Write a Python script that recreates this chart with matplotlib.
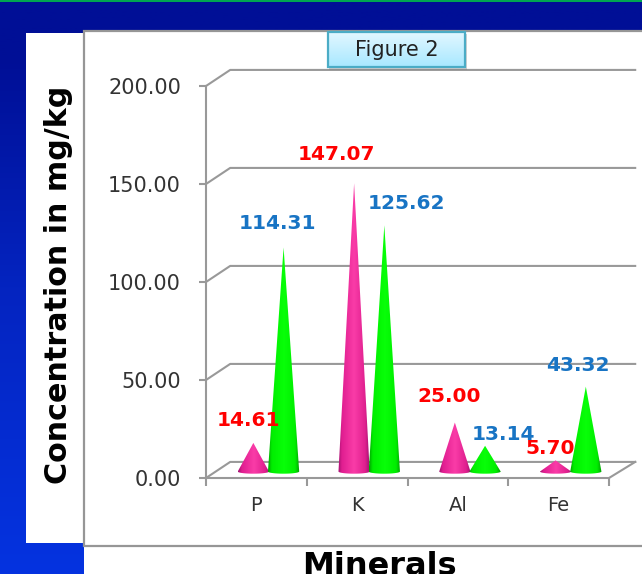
import numpy as np
import matplotlib
matplotlib.use("Agg")
import matplotlib.pyplot as plt
from matplotlib.colors import LinearSegmentedColormap
from matplotlib.patches import Polygon, Rectangle

# Data
minerals = ["P", "K", "Al", "Fe"]
pink_values = [14.61, 147.07, 25.00, 5.70]
green_values = [114.31, 125.62, 13.14, 43.32]
y_ticks = [0, 50, 100, 150, 200]

# label offsets from the cone tip, in pixels
pink_label_off = [(-5, 22), (-18, 29), (-6, 26), (-5, 12)]
green_label_off = [(-6, 24), (22, 22), (18, 11), (-8, 21)]

W, H = 642, 574
fig = plt.figure(figsize=(W / 100, H / 100), dpi=100)

# Background slide, pixel coordinates
bg = fig.add_axes([0, 0, 1, 1])
bg.set_xlim(0, W)
bg.set_ylim(H, 0)
bg.axis("off")
blue = LinearSegmentedColormap.from_list("slide", [(0, "#000f96"), (0.1, "#000f96"), (0.5, "#0424c0"), (1, "#0533e0")])
bg.imshow(np.linspace(0, 1, 256)[:, None], cmap=blue, extent=(0, W, H, 0), aspect="auto", zorder=0)
bg.set_xlim(0, W)
bg.set_ylim(H, 0)
bg.add_patch(Rectangle((0, 0), W, 2, color="#00a651", lw=0))
bg.add_patch(Rectangle((26, 33), 60, 510, color="white", lw=0))
bg.add_patch(Rectangle((84, 546), W - 84, H - 546, color="white", lw=0))
bg.add_patch(Rectangle((84, 31), W, 515, facecolor="white", edgecolor="#969696", lw=1.6))
bg.text(379, 575, "Minerals", fontsize=23, fontweight="bold", ha="center", va="baseline", color="black")
bg.text(59, 285, "Concentration in mg/kg", fontsize=21.7, fontweight="bold", rotation=90,
        ha="center", va="center", color="black")

# Plot area: front wall 206-609 px wide, 86-478 px high
ax = fig.add_axes([206 / W, 1 - 478 / H, 403 / W, 392 / H])
ax.patch.set_alpha(0)
ax.set_xlim(0, 4)
ax.set_ylim(0, 200)
grey = "#999999"
for s in ["top", "right"]:
    ax.spines[s].set_visible(False)
for s in ["left", "bottom"]:
    ax.spines[s].set_color(grey)
    ax.spines[s].set_linewidth(1.5)
ax.set_yticks(y_ticks)
ax.set_yticklabels(["%.2f" % v for v in y_ticks], fontsize=15, color="#333333")
ax.set_xticks([0, 1, 2, 3, 4])
ax.set_xticklabels([])
ax.set_xticks([0.5, 1.5, 2.5, 3.5], minor=True)
ax.set_xticklabels(minerals, minor=True, fontsize=14, color="#333333")
ax.tick_params(axis="y", length=5, width=1.5, color=grey, pad=13)
ax.tick_params(axis="x", which="major", length=5.5, width=1.5, color=grey)
ax.tick_params(axis="x", which="minor", length=0, pad=13)

# 3D walls
dx, dy = 0.24, 8.2
x_end = 4.26
for v in y_ticks:
    ax.plot([0, dx, x_end], [v, v + dy, v + dy], color=grey, lw=1.5, clip_on=False, zorder=1)
ax.plot([4, x_end], [0, dy], color=grey, lw=1.5, clip_on=False, zorder=1)

pink_map = LinearSegmentedColormap.from_list(
    "pink", [(0, "#a01070"), (0.12, "#e01e90"), (0.5, "#fa3ca8"), (0.85, "#e0208f"), (1, "#a01070")])
green_map = LinearSegmentedColormap.from_list(
    "green", [(0, "#00a400"), (0.12, "#00ee00"), (0.5, "#08ff08"), (0.85, "#00ee00"), (1, "#009c00")])
grad = np.linspace(0, 1, 128)[None, :]


def cone(xc, value, cmap, z):
    half = 0.155
    base = 3.3
    t = np.linspace(np.pi, 2 * np.pi, 30)
    arc_x = xc + half * np.cos(t)
    arc_y = base + 1.1 * np.sin(t)
    pts = np.column_stack([np.r_[xc, arc_x], np.r_[base + value, arc_y]])
    im = ax.imshow(grad, cmap=cmap, extent=(xc - half, xc + half, 0, base + value),
                   aspect="auto", zorder=z)
    poly = Polygon(pts, transform=ax.transData, fc="none", ec="none")
    ax.add_patch(poly)
    im.set_clip_path(poly)


for i in range(4):
    cone(i + 0.47, pink_values[i], pink_map, 3)
    cone(i + 0.77, green_values[i], green_map, 3.1)
    ax.annotate("%.2f" % pink_values[i], (i + 0.47, pink_values[i] + 3.3),
                xytext=pink_label_off[i], textcoords="offset pixels", ha="center", va="center",
                color="#ff0000", fontsize=14.5, fontweight="bold", zorder=5, annotation_clip=False)
    ax.annotate("%.2f" % green_values[i], (i + 0.77, green_values[i] + 3.3),
                xytext=green_label_off[i], textcoords="offset pixels", ha="center", va="center",
                color="#1874c4", fontsize=14.5, fontweight="bold", zorder=4, annotation_clip=False)

ax.set_xlim(0, 4)
ax.set_ylim(0, 200)

# "Figure 2" box
top = fig.add_axes([0, 0, 1, 1])
top.set_xlim(0, W)
top.set_ylim(H, 0)
top.axis("off")
top.patch.set_alpha(0)
top.add_patch(Rectangle((329, 34), 138, 36, color="#808080", alpha=0.35, lw=0, zorder=1))
box = LinearSegmentedColormap.from_list("box", ["#e2f7ff", "#a8e8ff"])
top.imshow(np.linspace(0, 1, 64)[:, None], cmap=box, extent=(328, 465, 67, 32), aspect="auto", zorder=2)
top.add_patch(Rectangle((328, 32), 137, 35, fc="none", ec="#4bacc6", lw=1.6, zorder=3))
top.text(396.5, 50, "Figure 2", fontsize=15, color="#222222", ha="center", va="center", zorder=4)
top.set_xlim(0, W)
top.set_ylim(H, 0)

fig.savefig("out.png", dpi=100)
